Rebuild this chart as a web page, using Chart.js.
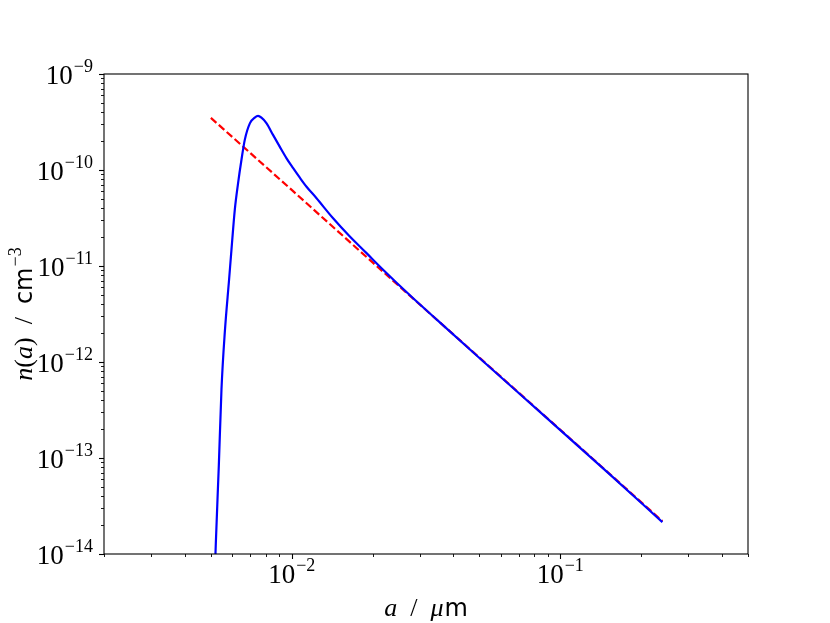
<!DOCTYPE html>
<html>
<head>
<meta charset="utf-8">
<script src="https://cdn.jsdelivr.net/npm/chart.js@4.4.0/dist/chart.umd.min.js"></script>
<style>
  body { margin: 0; background: #fff; }
  canvas { display: block; }
</style>
</head>
<body>
<canvas id="sizeChart" width="830" height="623"></canvas>
<script>
// grain size distribution
const sizeBlue = [0.00516, 0.005218, 0.005352, 0.005476, 0.005633, 0.005845, 0.005966, 0.006138, 0.006314,
                  0.0065, 0.006687, 0.006991, 0.007284, 0.007491, 0.007714, 0.00805, 0.008519, 0.009022,
                  0.009554, 0.010109, 0.010705, 0.011335, 0.012349, 0.014233, 0.016426, 0.018952, 0.021842,
                  0.028, 0.035, 0.05, 0.07, 0.1, 0.15, 0.24];
const nBlue = [5e-15, 1.32e-14, 8.28e-14, 5.19e-13, 2.02e-12, 7.23e-12, 1.48e-11, 3.85e-11, 7.31e-11,
               1.28e-10, 2.06e-10, 3.08e-10, 3.51e-10, 3.66e-10, 3.51e-10, 3.08e-10, 2.32e-10, 1.75e-10,
               1.33e-10, 1.05e-10, 8.36e-11, 6.74e-11, 5.11e-11, 3.16e-11, 2.04e-11, 1.37e-11, 9.2e-12,
               4.75e-12, 2.7e-12, 1.1e-12, 4.76e-13, 1.95e-13, 7.08e-14, 2.15e-14];

// power law fit (dashed)
const sizeRed = [0.005, 0.01, 0.02, 0.05, 0.1, 0.24];
const nRed = [3.49e-10, 6.2e-11, 1.09e-11, 1.11e-12, 1.97e-13, 2.2e-14];

// axis limits and labelled decades
const xMin = 0.002, xMax = 0.5;
const yMin = 1e-14, yMax = 1e-9;
const xTickExps = [-2, -1];
const yTickExps = [-9, -10, -11, -12, -13, -14];

const SERIF = '"Liberation Serif", "DejaVu Serif", serif';
const SANS = '"DejaVu Sans", sans-serif';

function toPoints(xs, ys) {
    return xs.map((x, i) => ({ x: x, y: ys[i] }));
}

function minorValues(lo, hi) {
    var vals = [];
    for (var e = Math.floor(Math.log10(lo)); e <= Math.ceil(Math.log10(hi)); e++) {
        for (var k = 1; k <= 9; k++) {
            var v = k * Math.pow(10, e);
            if (v >= lo * 0.999 && v <= hi * 1.001) vals.push({ v: v, major: k === 1 });
        }
    }
    return vals;
}

// draws a run of text pieces with their own fonts and offsets
function drawRich(ctx, parts, x, y, align) {
    var w = 0;
    parts.forEach(p => {
        ctx.font = p.font;
        p.w = ctx.measureText(p.t).width;
        w += p.w + (p.gap || 0);
    });
    var cx = align === 'center' ? x - w / 2 : (align === 'right' ? x - w : x);
    parts.forEach(p => {
        ctx.font = p.font;
        ctx.fillText(p.t, cx, y + (p.dy || 0));
        cx += p.w + (p.gap || 0);
    });
}

function powerLabel(exp) {
    return [
        { t: '10', font: '27px ' + SERIF, gap: 1 },
        { t: '\u2212' + Math.abs(exp), font: '18px ' + SERIF, dy: -12 }
    ];
}

const axesPlugin = {
    id: 'axesPlugin',
    afterDraw(chart) {
        const ctx = chart.ctx;
        const area = chart.chartArea;
        const xs = chart.scales.x;
        const ys = chart.scales.y;
        ctx.save();
        ctx.strokeStyle = '#000';
        ctx.fillStyle = '#000';

        // frame
        ctx.lineWidth = 1.1;
        ctx.strokeRect(area.left, area.top, area.right - area.left, area.bottom - area.top);

        // tick marks
        minorValues(xMin, xMax).forEach(t => {
            var px = Math.round(xs.getPixelForValue(t.v)) + 0.5;
            ctx.lineWidth = t.major ? 1.1 : 0.9;
            ctx.beginPath();
            ctx.moveTo(px, area.bottom);
            ctx.lineTo(px, area.bottom + (t.major ? 5 : 3));
            ctx.stroke();
        });
        minorValues(yMin, yMax).forEach(t => {
            var py = Math.round(ys.getPixelForValue(t.v)) + 0.5;
            ctx.lineWidth = t.major ? 1.1 : 0.9;
            ctx.beginPath();
            ctx.moveTo(area.left, py);
            ctx.lineTo(area.left - (t.major ? 5 : 3), py);
            ctx.stroke();
        });

        // tick labels
        ctx.textBaseline = 'alphabetic';
        ctx.textAlign = 'left';
        xTickExps.forEach(e => {
            drawRich(ctx, powerLabel(e), xs.getPixelForValue(Math.pow(10, e)), area.bottom + 29, 'center');
        });
        yTickExps.forEach(e => {
            drawRich(ctx, powerLabel(e), area.left - 11, ys.getPixelForValue(Math.pow(10, e)) + 9.5, 'right');
        });

        // x axis title
        drawRich(ctx, [
            { t: 'a', font: 'italic 26px ' + SERIF },
            { t: '  /  ', font: '26px ' + SERIF },
            { t: '\u03bc', font: 'italic 26px ' + SERIF, gap: 1 },
            { t: 'm', font: '24px ' + SANS }
        ], (area.left + area.right) / 2, 616, 'center');

        // y axis title
        ctx.translate(32, (area.top + area.bottom) / 2);
        ctx.rotate(-Math.PI / 2);
        drawRich(ctx, [
            { t: 'n', font: 'italic 26px ' + SERIF },
            { t: '(', font: '26px ' + SERIF },
            { t: 'a', font: 'italic 26px ' + SERIF },
            { t: ')', font: '26px ' + SERIF },
            { t: '  /  ', font: '26px ' + SERIF },
            { t: 'cm', font: '24px ' + SANS, gap: 1 },
            { t: '\u22123', font: '18px ' + SERIF, dy: -11 }
        ], 0, 0, 'center');
        ctx.restore();
    }
};

const ctx = document.getElementById('sizeChart').getContext('2d');
new Chart(ctx, {
    type: 'line',
    data: {
        datasets: [
            {
                label: 'n(a)',
                data: toPoints(sizeBlue, nBlue),
                borderColor: '#0000ff',
                borderWidth: 2.2,
                pointRadius: 0,
                cubicInterpolationMode: 'monotone',
                fill: false,
                clip: 0
            },
            {
                label: 'power law',
                data: toPoints(sizeRed, nRed),
                borderColor: '#ff0000',
                borderWidth: 2.2,
                borderDash: [7.4, 3.2],
                pointRadius: 0,
                tension: 0,
                fill: false,
                clip: 0
            }
        ]
    },
    options: {
        responsive: false,
        animation: false,
        layout: { padding: { left: 0, right: 82, top: 74, bottom: 0 } },
        plugins: {
            legend: { display: false },
            tooltip: { enabled: false }
        },
        scales: {
            x: {
                type: 'logarithmic',
                min: xMin,
                max: xMax,
                grid: { display: false },
                border: { display: false },
                ticks: { display: false },
                afterFit: function (scale) { scale.height = 69; }
            },
            y: {
                type: 'logarithmic',
                min: yMin,
                max: yMax,
                grid: { display: false },
                border: { display: false },
                ticks: { display: false },
                afterFit: function (scale) { scale.width = 104; }
            }
        }
    },
    plugins: [axesPlugin]
});
</script>
</body>
</html>
